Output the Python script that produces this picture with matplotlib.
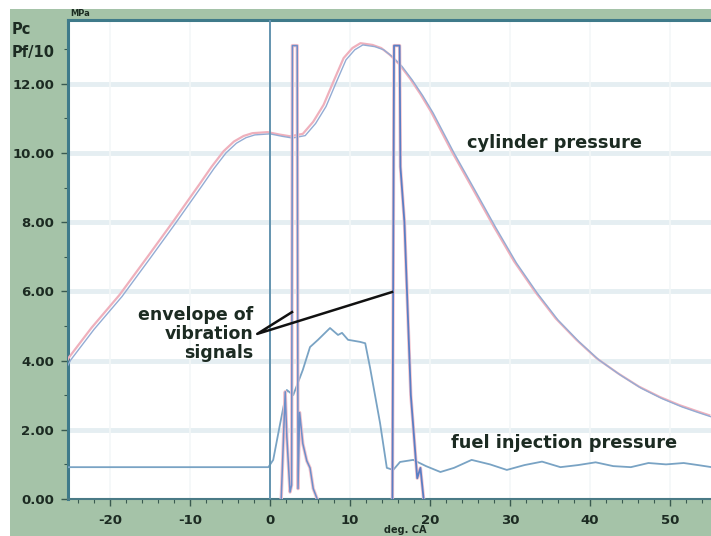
import matplotlib.pyplot as plt
from matplotlib.patches import Rectangle
from matplotlib.ticker import MultipleLocator

# crank angle (deg) and pressures
cyl_x = [-25.3, -24.9, -22.0, -18.5, -15.0, -11.8, -8.5, -7.0, -5.5, -4.2, -3.0, -1.9,
         0.0, 1.5, 2.8, 4.4, 5.7, 7.0, 8.3, 9.5, 10.6, 11.6, 13.1, 14.2, 15.3, 16.5,
         17.8, 19.1, 20.4, 23.0, 25.6, 28.2, 30.8, 33.4, 36.0, 38.6, 41.1, 43.8,
         46.4, 49.0, 51.5, 53.5, 55.2]
cyl_y = [3.85, 4.02, 4.9, 5.85, 6.95, 7.97, 9.05, 9.55, 10.0, 10.28, 10.44, 10.52,
         10.55, 10.48, 10.43, 10.5, 10.85, 11.34, 12.05, 12.69, 12.98, 13.12, 13.07,
         12.98, 12.78, 12.5, 12.1, 11.65, 11.15, 10.0, 8.93, 7.85, 6.82, 5.95, 5.17,
         4.55, 4.02, 3.58, 3.2, 2.9, 2.66, 2.5, 2.37]

fuel_x = [-25.3, -0.2, 0.4, 1.2, 2.1, 2.9, 4.1, 5.0, 6.0, 7.5, 8.5, 9.0, 9.75, 11.25,
          11.9, 12.5, 13.75, 14.6, 15.4, 16.25, 17.9, 19.5, 21.3, 23.0, 25.2, 27.5,
          29.6, 31.8, 34.0, 36.3, 38.5, 40.7, 42.9, 45.1, 47.3, 49.5, 51.7, 53.5, 55.2]
fuel_y = [0.92, 0.92, 1.13, 2.1, 3.15, 3.0, 3.73, 4.39, 4.6, 4.94, 4.74, 4.8, 4.6, 4.54,
          4.5, 3.8, 2.2, 0.9, 0.84, 1.07, 1.13, 0.95, 0.78, 0.9, 1.13, 1.0, 0.84, 0.98,
          1.08, 0.92, 0.98, 1.06, 0.95, 0.92, 1.04, 1.0, 1.04, 0.98, 0.92]

vib1_x = [1.4, 1.9, 2.1, 2.5, 2.7, 2.8, 3.4, 3.5, 3.7, 4.1, 4.6, 5.0, 5.4, 5.9]
vib1_y = [0.0, 3.1, 1.8, 0.2, 0.4, 13.1, 13.1, 0.3, 2.5, 1.6, 1.1, 0.9, 0.3, 0.0]

vib2_x = [15.3, 15.5, 16.2, 16.3, 16.8, 17.2, 17.6, 18.0, 18.4, 18.8, 19.2]
vib2_y = [0.0, 13.1, 13.1, 9.6, 8.0, 5.5, 3.0, 1.8, 0.6, 0.9, 0.0]

x_ticks = [-20, -10, 0, 10, 20, 30, 40, 50]
y_ticks = [0, 2, 4, 6, 8, 10, 12]

green = "#a5c3a8"
ink = "#1c2b22"

fig = plt.figure(figsize=(7.11, 5.36), dpi=100)
fig.patch.set_facecolor("white")
fig.patches.append(Rectangle((10 / 711, 0), 1, 527 / 536, transform=fig.transFigure,
                             facecolor=green, edgecolor="none", zorder=-10))

ax = fig.add_axes([68 / 711, 37 / 536, 643 / 711, 479 / 536])
ax.set_zorder(2)
ax.set_facecolor("white")
ax.set_xlim(-25.25, 55.12)
ax.set_ylim(0, 13.84)

for v in y_ticks[1:]:
    ax.axhline(v, color="#e5eef2", lw=3.5, zorder=1)
for v in x_ticks:
    ax.axvline(v, color="#f3f7f8", lw=1.2, zorder=1)

# cylinder pressure: pink trace with blue trace on top
ax.plot([x - 0.3 for x in cyl_x], [y + 0.05 for y in cyl_y], color="#efb0bc", lw=1.6, zorder=3)
ax.plot(cyl_x, cyl_y, color="#93acd4", lw=1.0, zorder=4)

ax.plot(fuel_x, fuel_y, color="#79a3c4", lw=1.3, zorder=4)

ax.plot(vib1_x, vib1_y, color="#f3c2cc", lw=2.4, zorder=4)
ax.plot(vib1_x, vib1_y, color="#6c8fca", lw=1.1, zorder=5)
ax.plot(vib2_x, vib2_y, color="#f3c2cc", lw=2.4, zorder=4)
ax.plot(vib2_x, vib2_y, color="#5a7ec4", lw=1.3, zorder=5)

ax.axvline(0, color="#6494b0", lw=1.4, zorder=5)

ax.text(35.5, 10.29, "cylinder pressure", fontsize=12.8, fontweight="bold",
        color=ink, ha="center", va="center", zorder=6)
ax.text(36.75, 1.62, "fuel injection pressure", fontsize=12.8, fontweight="bold",
        color=ink, ha="center", va="center", zorder=6)
ax.text(-2.1, 4.77, "envelope of\nvibration\nsignals", fontsize=12.5, fontweight="bold",
        color=ink, ha="right", va="center", multialignment="right",
        linespacing=1.05, zorder=6)
ax.plot([2.75, -1.6, 15.25], [5.4, 4.77, 5.98], color="#111111", lw=1.8, zorder=6)

ax.spines["right"].set_visible(False)
ax.spines["left"].set_color("#3f7a8a")
ax.spines["left"].set_linewidth(2.2)
ax.spines["top"].set_color("#3f7a8a")
ax.spines["top"].set_linewidth(2.2)
ax.spines["bottom"].set_color("#4a7a86")
ax.spines["bottom"].set_linewidth(1.5)

ax.set_xticks(x_ticks)
ax.set_xticklabels([str(v) for v in x_ticks])
ax.set_yticks(y_ticks)
ax.set_yticklabels(["%.2f" % v for v in y_ticks])
ax.xaxis.set_minor_locator(MultipleLocator(2))
ax.yaxis.set_minor_locator(MultipleLocator(1))
ax.tick_params(axis="both", which="major", direction="out", length=5, width=1,
               color="#3a5a50", labelsize=9.5, labelcolor=ink, pad=5)
ax.tick_params(axis="x", which="major", pad=6)
ax.tick_params(axis="both", which="minor", direction="out", length=3, width=0.8,
               color="#3a5a50")
for lab in ax.get_xticklabels() + ax.get_yticklabels():
    lab.set_fontweight("bold")

fig.text(12 / 711, 1 - 30 / 536, "Pc", fontsize=10.5, fontweight="bold", color=ink,
         ha="left", va="center")
fig.text(12 / 711, 1 - 53 / 536, "Pf/10", fontsize=10.5, fontweight="bold", color=ink,
         ha="left", va="center")
fig.text(70 / 711, 1 - 13 / 536, "MPa", fontsize=6, fontweight="bold", color=ink,
         ha="left", va="center")
fig.text(405 / 711, 1 / 536, "deg. CA", fontsize=7, fontweight="bold", color=ink,
         ha="center", va="bottom")

fig.savefig("out.png", dpi=100, facecolor=fig.get_facecolor())
